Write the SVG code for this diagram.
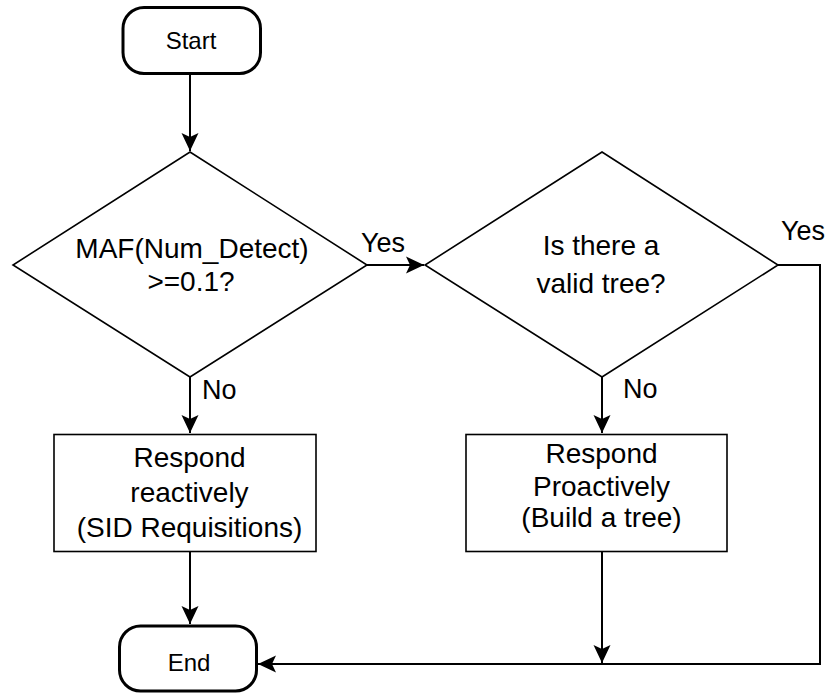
<svg xmlns="http://www.w3.org/2000/svg" width="830" height="695" viewBox="0 0 830 695">
  <defs>
    <marker id="arrow" markerUnits="userSpaceOnUse" markerWidth="20" markerHeight="20" viewBox="-20 -10 20 20" refX="0" refY="0" orient="auto">
      <path d="M0,0 L-18,-8.5 L-14,0 L-18,8.5 Z" fill="#000"/>
    </marker>
  </defs>
  <style>
    text { font-family: "Liberation Sans", Arial, sans-serif; fill: #000; text-anchor: middle; }
    .main { font-size: 28px; }
    .term { font-size: 24px; }
    .lbl { font-size: 27px; text-anchor: start; }
    .terminal { fill: #fff; stroke: #000; stroke-width: 3; }
    .decision, .process { fill: #fff; stroke: #000; stroke-width: 1.6; }
    .edge { fill: none; stroke: #000; stroke-width: 2; }
  </style>
  <rect width="830" height="695" fill="#fff"/>

  <!-- connectors -->
  <g id="connectors">
    <line class="edge" x1="190" y1="75" x2="190" y2="151" marker-end="url(#arrow)"/>
    <line class="edge" x1="367" y1="265" x2="424" y2="265" marker-end="url(#arrow)"/>
    <line class="edge" x1="190" y1="377" x2="190" y2="433" marker-end="url(#arrow)"/>
    <line class="edge" x1="602" y1="377" x2="602" y2="433" marker-end="url(#arrow)"/>
    <line class="edge" x1="190" y1="552" x2="190" y2="624" marker-end="url(#arrow)"/>
    <line class="edge" x1="602" y1="552" x2="602" y2="663" marker-end="url(#arrow)"/>
    <polyline class="edge" points="778,265 820,265 820,664 258,664" marker-end="url(#arrow)"/>
    <text class="lbl" x="361" y="252">Yes</text>
    <text class="lbl" x="781" y="240">Yes</text>
    <text class="lbl" x="202" y="399">No</text>
    <text class="lbl" x="623" y="398">No</text>
  </g>

  <g id="start">
    <rect class="terminal" x="123" y="7.5" width="137.5" height="66" rx="21"/>
    <text class="term" x="191" y="49">Start</text>
  </g>

  <g id="decision-maf">
    <polygon class="decision" points="190,152 367,265 190,377 13,265"/>
    <text class="main" x="192" y="258">MAF(Num_Detect)</text>
    <text class="main" x="191" y="291">&gt;=0.1?</text>
  </g>

  <g id="decision-tree">
    <polygon class="decision" points="602,152 778,265 602,377 425,265"/>
    <text class="main" x="601" y="255">Is there a</text>
    <text class="main" x="601" y="293">valid tree?</text>
  </g>

  <g id="respond-reactive">
    <rect class="process" x="54" y="434.5" width="262" height="117"/>
    <text class="main" x="189.5" y="467">Respond</text>
    <text class="main" x="189.5" y="502">reactively</text>
    <text class="main" x="189.5" y="537">(SID Requisitions)</text>
  </g>

  <g id="respond-proactive">
    <rect class="process" x="466" y="434.5" width="261" height="117"/>
    <text class="main" x="601.5" y="463">Respond</text>
    <text class="main" x="601.5" y="496">Proactively</text>
    <text class="main" x="601.5" y="527">(Build a tree)</text>
  </g>

  <g id="end">
    <rect class="terminal" x="119.5" y="626" width="137" height="65" rx="21"/>
    <text class="term" x="189" y="671">End</text>
  </g>
</svg>
